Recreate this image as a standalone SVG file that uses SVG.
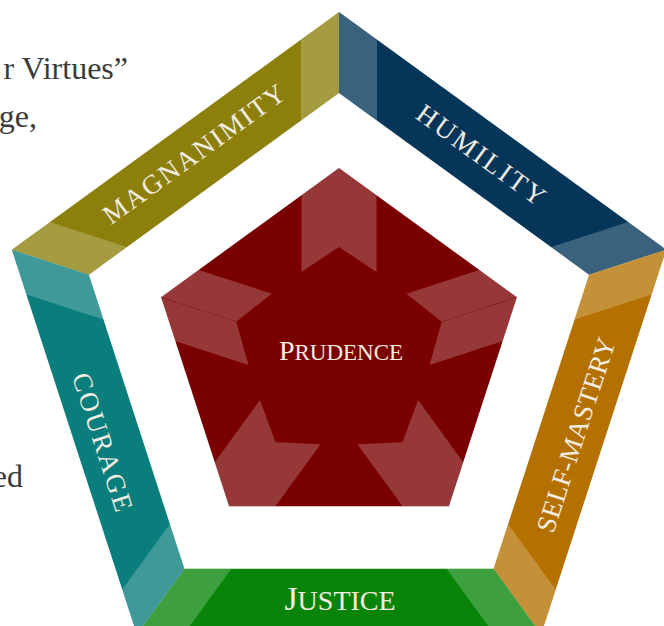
<svg xmlns="http://www.w3.org/2000/svg" width="664" height="626" viewBox="0 0 664 626">
  <style>
    .cap { fill: #ffffff; fill-opacity: 0.22; }
    .chev { fill: #ffffff; fill-opacity: 0.22; }
    .fold { stroke: #5a0000; stroke-opacity: 0.35; stroke-width: 1; fill: none; }
    .lbl { font-family: "Liberation Serif", "DejaVu Serif", serif; font-size: 27px; fill: #F2EDE0; text-anchor: middle; }
    .big { font-family: "Liberation Serif", "DejaVu Serif", serif; fill: #F2EDE0; text-anchor: middle; }
    .page { font-family: "Liberation Serif", "DejaVu Serif", serif; font-size: 32px; fill: #3a3a3a; text-anchor: end; }
  </style>
  <defs>
    <clipPath id="pent">
      <polygon points="339,168 516.9,297.2 448.9,506.3 229.1,506.3 161.1,297.2"/>
    </clipPath>
    <polygon id="chevShape" points="301.5,140 376.5,140 376.5,272 339,247 301.5,272"/>
  </defs>
  <rect width="664" height="626" fill="#ffffff"/>

  <g id="page-text">
    <text class="page" x="128" y="79">r Virtues”</text>
    <text class="page" x="37" y="127">ge,</text>
    <text class="page" x="23" y="487">ed</text>
  </g>

  <g id="node-magnanimity">
    <polygon points="11.8,249.7 339,12 339,93 88.9,274.7" fill="#8C7F0C"/>
    <polygon class="cap" points="11.8,249.7 49.8,222.1 126.9,247.1 88.9,274.7"/>
    <polygon class="cap" points="339,12 301,39.6 301,120.6 339,93"/>
    <text class="lbl" transform="translate(194,154) rotate(-36)" y="9" textLength="218" lengthAdjust="spacing">MAGNANIMITY</text>
  </g>

  <g id="node-humility">
    <polygon points="339,12 666.2,249.7 589.1,274.7 339,93" fill="#053659"/>
    <polygon class="cap" points="339,12 377,39.6 377,120.6 339,93"/>
    <polygon class="cap" points="666.2,249.7 628.2,222.1 551.1,247.1 589.1,274.7"/>
    <text class="lbl" transform="translate(481,155) rotate(36)" y="9" textLength="152" lengthAdjust="spacing">HUMILITY</text>
  </g>

  <g id="node-self-mastery">
    <polygon points="666.2,249.7 541.2,634.3 493.6,568.8 589.1,274.7" fill="#B47100"/>
    <polygon class="cap" points="666.2,249.7 651.7,294.4 574.6,319.4 589.1,274.7"/>
    <polygon class="cap" points="541.2,634.3 555.7,589.6 508.1,524.1 493.6,568.8"/>
    <text class="lbl" transform="translate(576,435) rotate(-72)" y="9" textLength="203" lengthAdjust="spacing">SELF-MASTERY</text>
  </g>

  <g id="node-justice">
    <polygon points="541.2,634.3 136.8,634.3 184.4,568.8 493.6,568.8" fill="#088408"/>
    <polygon class="cap" points="541.2,634.3 494.2,634.3 446.6,568.8 493.6,568.8"/>
    <polygon class="cap" points="136.8,634.3 183.8,634.3 231.4,568.8 184.4,568.8"/>
    <text class="big" x="340" y="610"><tspan font-size="34">J</tspan><tspan font-size="28">USTICE</tspan></text>
  </g>

  <g id="node-courage">
    <polygon points="136.8,634.3 11.8,249.7 88.9,274.7 184.4,568.8" fill="#0A7D7D"/>
    <polygon class="cap" points="136.8,634.3 122.3,589.6 169.9,524.1 184.4,568.8"/>
    <polygon class="cap" points="11.8,249.7 26.3,294.4 103.4,319.4 88.9,274.7"/>
    <text class="lbl" transform="translate(102.5,442) rotate(72)" y="9" textLength="144" lengthAdjust="spacing">COURAGE</text>
  </g>

  <g id="node-prudence">
    <polygon points="339,168 516.9,297.2 448.9,506.3 229.1,506.3 161.1,297.2" fill="#7A0000"/>
    <g clip-path="url(#pent)">
      <use href="#chevShape" class="chev"/>
      <use href="#chevShape" class="chev" transform="rotate(72 339 355)"/>
      <use href="#chevShape" class="chev" transform="rotate(144 339 355)"/>
      <use href="#chevShape" class="chev" transform="rotate(216 339 355)"/>
      <use href="#chevShape" class="chev" transform="rotate(288 339 355)"/>
      <line class="fold" x1="339" y1="168" x2="339" y2="247" transform="rotate(72 339 355)"/>
      <line class="fold" x1="339" y1="168" x2="339" y2="247" transform="rotate(-72 339 355)"/>
    </g>
    <text class="big" x="341" y="360"><tspan font-size="28">P</tspan><tspan font-size="23">RUDENCE</tspan></text>
  </g>

  <g id="connectors"/>
</svg>
